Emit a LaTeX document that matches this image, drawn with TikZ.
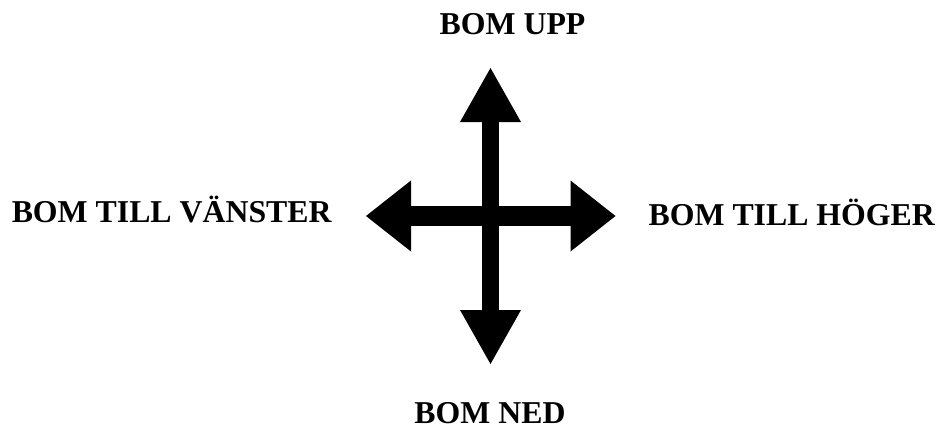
\documentclass[tikz,border=0pt]{standalone}
\usepackage{fontspec}
\setmainfont{Liberation Serif}
\usetikzlibrary{arrows.meta}

\begin{document}
\begin{tikzpicture}[x=1pt, y=-1pt,
	lbl/.style={font=\fontsize{31.8}{36}\selectfont\bfseries, anchor=base, inner sep=0pt},
	vtip/.tip={Triangle[length=54pt, width=61pt, line width=0pt]},
	htip/.tip={Triangle[length=45pt, width=71pt, line width=0pt]},
	vshaft/.style={line width=17pt, vtip-vtip},
	hshaft/.style={line width=20.5pt, htip-htip}]
	\useasboundingbox (0,0) rectangle (941,428);

	% arms of the cross
	\coordinate (c) at (490.5,216);
	\coordinate (up) at (490.5,68);
	\coordinate (down) at (490.5,364);
	\coordinate (left) at (366,216);
	\coordinate (right) at (615.5,216);

	\draw[hshaft] (left) -- (right);
	\draw[vshaft] (up) -- (down);

	% labels
	\node[lbl] (upp) at (512.5,35) {BOM UPP};
	\node[lbl] (ned) at (490,423) {BOM NED};
	\node[lbl] (vanster) at (171.7,222.3) {BOM TILL VÄNSTER};
	\node[lbl] (hoger) at (791.7,225) {BOM TILL HÖGER};
\end{tikzpicture}
\end{document}
